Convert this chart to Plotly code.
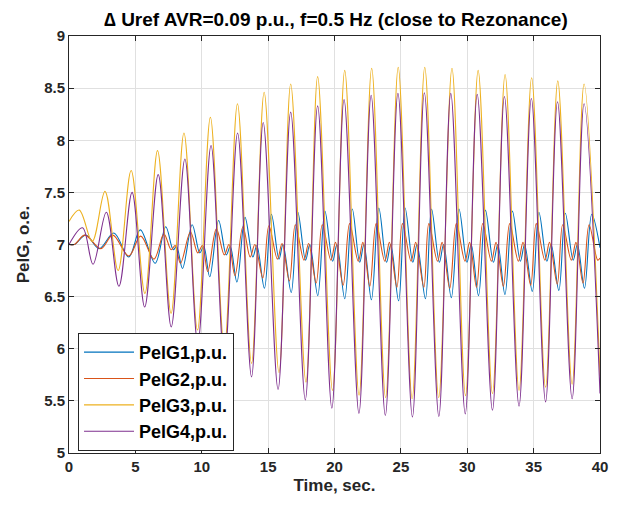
import plotly.graph_objects as go

# ---- data ----
G1_t = [0, 0.4, 1.27, 2.27, 3.38, 4.5, 5.37, 6.49, 7.29, 7.85, 8.1, 8.55, 9.28, 9.85, 10.15, 10.6,
        11.27, 11.85, 12.15, 12.65, 13.26, 13.85, 14.15, 14.72, 15.25, 15.82, 16.12, 16.74, 17.24,
        17.82, 18.14, 18.74, 19.28, 19.86, 20.18, 20.77, 21.34, 21.9, 22.22, 22.78, 23.34, 23.92,
        24.24, 24.83, 25.32, 25.9, 26.22, 26.85, 27.31, 27.9, 28.22, 28.8, 29.38, 29.98, 30.3,
        30.85, 31.37, 31.97, 32.3, 32.84, 33.4, 34.0, 34.32, 34.9, 35.4, 36.0, 36.32, 36.9, 37.39,
        37.98, 38.3, 38.83, 39.38, 40]
G1_v = [7.0, 7.0, 7.09, 6.96, 7.11, 6.88, 7.14, 6.82, 7.17, 6.95, 6.98, 6.77, 7.19, 6.92, 6.98, 6.69,
        7.23, 6.9, 6.98, 6.64, 7.26, 6.88, 6.99, 6.58, 7.29, 6.86, 7.0, 6.54, 7.31,
        6.85, 7.0, 6.51, 7.32, 6.84, 7.0, 6.48, 7.34, 6.83, 7.0, 6.47, 7.35, 6.83,
        7.0, 6.46, 7.35, 6.83, 7.0, 6.48, 7.34, 6.83, 7.0, 6.49, 7.34, 6.83, 7.0,
        6.51, 7.33, 6.83, 7.0, 6.52, 7.32, 6.84, 7.0, 6.55, 7.31, 6.84, 7.0, 6.56, 7.30,
        6.85, 7.0, 6.58, 7.29, 6.97]

G2_t = [0, 0.4, 1.2, 2.4, 3.3, 4.5, 5.4, 6.4, 7.15, 7.7, 8.0, 8.4, 9.15, 9.7, 10.05, 10.45, 11.1,
        11.7, 12.05, 12.5, 13.1, 13.65, 14.0, 14.6, 15.06, 15.7, 16.05, 16.6, 17.05, 17.7, 18.05,
        18.62, 19.08, 19.73, 20.08, 20.65, 21.14, 21.79, 22.14, 22.66, 23.14, 23.79, 24.14, 24.7,
        25.12, 25.77, 26.12, 26.73, 27.11, 27.76, 28.11, 28.68, 29.18, 29.83, 30.18, 30.7, 31.17,
        31.82, 32.17, 32.72, 33.2, 33.85, 34.2, 34.78, 35.2, 35.85, 36.2, 36.78, 37.19, 37.84,
        38.19, 38.72, 39.18, 39.83, 40]
G2_v = [7.0, 7.0, 7.09, 6.96, 7.09, 6.89, 7.08, 6.86, 7.1, 6.95, 6.99, 6.82, 7.12, 6.92, 6.99, 6.74, 7.15,
        6.9, 7.0, 6.70, 7.17, 6.88, 7.0, 6.68, 7.18, 6.86, 7.01, 6.65, 7.19, 6.85, 7.01,
        6.63, 7.19, 6.85, 7.02, 6.61, 7.2, 6.84, 7.02, 6.6, 7.2, 6.84, 7.02, 6.59,
        7.2, 6.84, 7.02, 6.59, 7.2, 6.84, 7.02, 6.58, 7.2, 6.84, 7.02, 6.59, 7.2,
        6.84, 7.02, 6.6, 7.2, 6.84, 7.02, 6.61, 7.2, 6.85, 7.02, 6.62, 7.19, 6.85,
        7.02, 6.63, 7.19, 6.85, 6.87]

G3_t = [0, 0.77, 1.75, 2.71, 3.7, 4.68, 5.72, 6.67, 7.69, 8.66, 9.68, 10.65, 11.7, 12.69, 13.75,
        14.7, 15.82, 16.7, 17.85, 18.73, 19.85, 20.77, 21.85, 22.8, 23.85, 24.8, 25.85, 26.8,
        27.85, 28.85, 29.87, 30.82, 31.9, 32.85, 33.9, 34.85, 35.9, 36.82, 37.9, 38.8, 40]
G3_v = [7.22, 7.33, 7.03, 7.51, 6.75, 7.71, 6.53, 7.90, 6.34, 8.07, 6.18, 8.22, 6.0, 8.35, 5.86,
        8.46, 5.77, 8.54, 5.68, 8.61, 5.60, 8.67, 5.555, 8.69, 5.53, 8.70, 5.52, 8.70,
        5.53, 8.69, 5.55, 8.67, 5.57, 8.63, 5.60, 8.60, 5.63, 8.57, 5.66, 8.54, 5.74]

G4_t = [0, 1.02, 1.81, 2.81, 3.76, 4.75, 5.70, 6.72, 7.7, 8.73, 9.7, 10.7, 11.7, 12.7, 13.75,
        14.63, 15.75, 16.7, 17.8, 18.73, 19.8, 20.72, 21.84, 22.76, 23.83, 24.78, 25.87, 26.77,
        27.86, 28.76, 29.85, 30.75, 31.9, 32.8, 33.9, 34.83, 35.9, 36.8, 37.9, 38.8, 40]
G4_v = [7.0, 7.16, 6.81, 7.31, 6.60, 7.50, 6.40, 7.67, 6.21, 7.82, 6.05, 7.95, 5.88, 8.07, 5.73,
        8.17, 5.61, 8.27, 5.51, 8.33, 5.43, 8.39, 5.38, 8.43, 5.36, 8.45, 5.345, 8.455,
        5.35, 8.45, 5.375, 8.44, 5.41, 8.42, 5.45, 8.40, 5.49, 8.37, 5.52, 8.35, 5.57]

names = ["PelG1,p.u.", "PelG2,p.u.", "PelG3,p.u.", "PelG4,p.u."]
colors = ["#0072BD", "#D95319", "#EDB120", "#7E2F8E"]
x_ticks = [0, 5, 10, 15, 20, 25, 30, 35, 40]
y_ticks = [5, 5.5, 6, 6.5, 7, 7.5, 8, 8.5, 9]

series = [(G1_t, G1_v), (G2_t, G2_v), (G3_t, G3_v), (G4_t, G4_v)]

fig = go.Figure()
for (tt, vv), nm, c in zip(series, names, colors):
    fig.add_trace(go.Scatter(x=tt, y=vv, mode="lines", name=f"<b>{nm}</b>",
                             line=dict(color=c, width=1.1, shape="spline", smoothing=1.0)))

# the page body has an 8px margin: figure is sized/margined to compensate
W, H = 612, 498
font_family = "Liberation Sans, Arial, sans-serif"
fig.update_layout(
    width=W, height=H,
    margin=dict(l=61, r=17, t=28, b=53),
    paper_bgcolor="white", plot_bgcolor="white",
    font=dict(family=font_family, color="#262626"),
    title=dict(text="<b>\u2206 Uref AVR=0.09 p.u., f=0.5 Hz (close to Rezonance)</b>",
               x=(61 + 595) / 2 / W, xanchor="center", y=1 - 11 / H, yanchor="middle",
               font=dict(size=19, color="#000000")),
    showlegend=True,
    legend=dict(x=0.017, y=0.288, xanchor="left", yanchor="top",
                bgcolor="white", bordercolor="#262626", borderwidth=1,
                font=dict(size=18, color="#000000", family=font_family),
                itemwidth=50, tracegroupgap=0),
)
fig.update_xaxes(range=[0, 40], tickvals=x_ticks, ticktext=[f"<b>{v}</b>" for v in x_ticks],
                 showgrid=True, gridcolor="#E0E0E0", gridwidth=1,
                 showline=True, linecolor="#262626", linewidth=1, mirror="ticks",
                 ticks="inside", ticklen=5, tickcolor="#262626", zeroline=False,
                 tickfont=dict(size=15, color="#262626"),
                 title=dict(text="<b>Time, sec.</b>", font=dict(size=17, color="#262626"), standoff=5))
fig.update_yaxes(range=[5, 9], tickvals=y_ticks,
                 ticktext=[f"<b>{v:g}</b>" for v in y_ticks],
                 showgrid=True, gridcolor="#E0E0E0", gridwidth=1,
                 showline=True, linecolor="#262626", linewidth=1, mirror="ticks",
                 ticks="inside", ticklen=5, tickcolor="#262626", zeroline=False,
                 tickfont=dict(size=15, color="#262626"),
                 title=dict(text="<b>PelG, o.e.</b>", font=dict(size=17, color="#262626"), standoff=10))

fig.write_html("out.html")
